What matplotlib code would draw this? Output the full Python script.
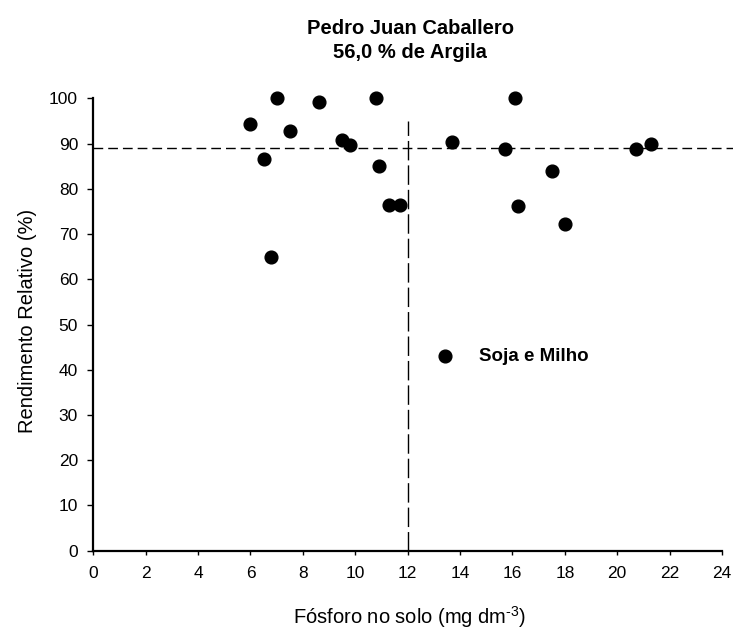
import numpy as np
import matplotlib
matplotlib.use('Agg')
import matplotlib.pyplot as plt

plt.rcParams['font.family'] = ['Liberation Sans', 'DejaVu Sans']
plt.rcParams['mathtext.fontset'] = 'custom'
plt.rcParams['mathtext.rm'] = 'Liberation Sans'

# Fósforo no solo (mg dm-3) e rendimento relativo (%)
fosforo = [6.0, 6.5, 7.0, 6.8, 7.5, 8.6, 9.5, 9.8, 10.8, 10.9,
           11.3, 11.7, 13.7, 15.7, 16.1, 16.2, 17.5, 18.0, 20.7, 21.3]
rendimento = [94.3, 86.6, 100.0, 64.9, 92.8, 99.1, 90.7, 89.7, 100.0, 85.0,
              76.4, 76.4, 90.4, 88.9, 100.0, 76.1, 84.0, 72.3, 88.8, 90.0]

nivel_critico = 12.0
rr_critico = 89.0
rr_topo_linha = 95.0

xticks = np.arange(0, 25, 2)
yticks = np.arange(0, 101, 10)

W, H = 733, 637
fig = plt.figure(figsize=(W / 100, H / 100), dpi=100)
ax = fig.add_axes([93.3 / W, 1 - 550.7 / H, (722 - 93.3) / W, (550.7 - 98.3) / H])

ax.scatter(fosforo, rendimento, s=84, color='black', zorder=3, clip_on=False,
           label='Soja e Milho')

# linhas de referencia
ax.plot([0, 24.45], [rr_critico, rr_critico], color='black', lw=1,
        dashes=(7, 3.6), clip_on=False, zorder=2)
ax.plot([nivel_critico, nivel_critico], [0, rr_topo_linha], color='black', lw=1,
        dashes=(14, 3.6), zorder=2)

ax.set_xlim(0, 24)
ax.set_ylim(0, 100)
ax.set_xticks(xticks)
ax.set_yticks(yticks)

for s in ['top', 'right']:
    ax.spines[s].set_visible(False)
for s in ['left', 'bottom']:
    ax.spines[s].set_linewidth(1.6)

ax.tick_params(axis='x', direction='out', length=3, width=1, pad=8, labelsize=12.5)
ax.tick_params(axis='y', direction='out', length=4, width=1, pad=7, labelsize=12.5)

leg = ax.legend(loc='center left', bbox_to_anchor=(0.5444, 0.4304), frameon=False,
                borderpad=0, borderaxespad=0, handlelength=1, handletextpad=1.33,
                scatterpoints=1, prop={'weight': 'bold', 'size': 13.5})

fig.text(410 / W, 1 - 40.5 / H, 'Pedro Juan Caballero\n56,0 % de Argila',
         ha='center', va='center', fontsize=14.5, fontweight='bold', linespacing=1.3)
fig.text(27.5 / W, 1 - 321 / H, 'Rendimento Relativo (%)', rotation=90,
         ha='center', va='center', fontsize=14.5)
fig.text(410 / W, 1 - 617 / H, r'Fósforo no solo (mg dm$^{\text{-3}}$)',
         ha='center', va='center', fontsize=14.5)

fig.savefig('out.png', dpi=100)
